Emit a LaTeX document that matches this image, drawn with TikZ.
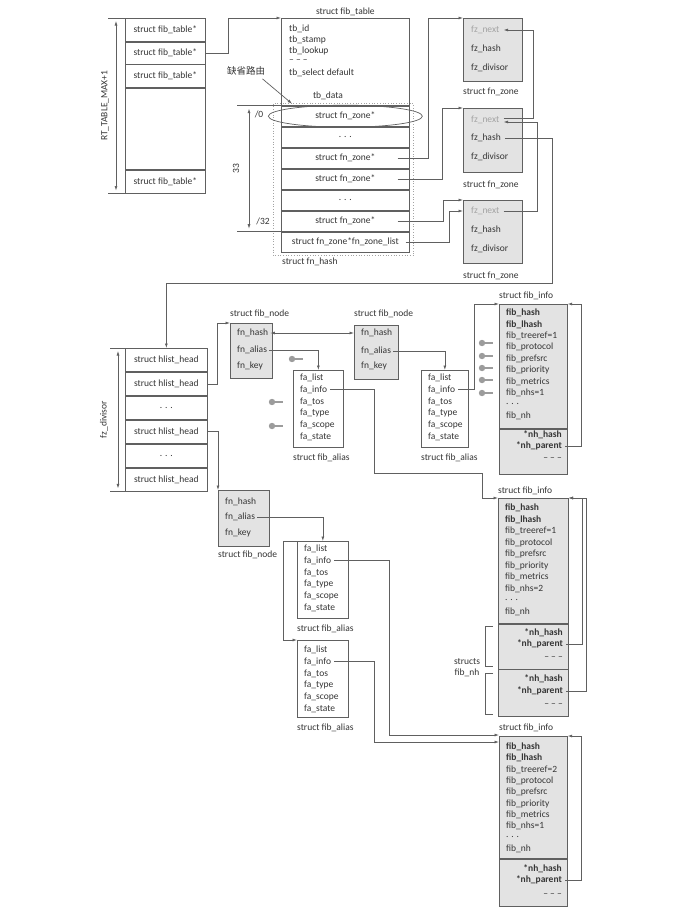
\documentclass[tikz,border=0pt]{standalone}
\usepackage{fontspec}
\setmainfont{Carlito}
\newfontfamily\cjkfont{Noto Sans CJK SC}
\usepackage{xcolor}
\usetikzlibrary{arrows.meta,calc,positioning}
\definecolor{colorLine}{HTML}{606060}
\definecolor{colorText}{HTML}{353535}
\definecolor{colorShade}{HTML}{E3E3E3}
\definecolor{colorPin}{HTML}{9C9C9C}
\definecolor{colorFaint}{HTML}{A3A3A3}
\newcommand{\fsz}{\fontsize{9.5}{11}\selectfont}

\begin{document}
\begin{tikzpicture}[x=1pt,y=-1pt,>={Latex[length=4.5pt,width=3pt]},every node/.append style={text=colorText,font=\fsz},cell/.style={draw=colorLine, line width=0.7pt, anchor=north west, inner sep=0pt},gcell/.style={cell, fill=colorShade},fld/.style={anchor=west, inner sep=1pt},bfld/.style={fld, font=\fsz\bfseries},rfld/.style={anchor=east, inner sep=1pt, font=\fsz\bfseries},capt/.style={anchor=west, inner sep=0pt},wire/.style={draw=colorLine, line width=0.7pt},keypin/.pic={\fill[colorPin] (0,0) circle (3.2pt); \draw[colorPin, line width=1.5pt] (0,0) -- (11,0);}]
    \path [fill=white] (0,0) rectangle (696,918);
    \useasboundingbox (0,0) rectangle (696,918);

    % fib_tables array
    \node [cell, minimum width=80, minimum height=23] (t1) at (125,18) {struct fib\_table*};
    \node [cell, minimum width=80, minimum height=22] (t2) at (t1.south west) {struct fib\_table*};
    \node [cell, minimum width=80, minimum height=23] (t3) at (t2.south west) {struct fib\_table*};
    \node [cell, minimum width=80, minimum height=81] (t4) at (t3.south west) {};
    \node [cell, minimum width=80, minimum height=23] (t5) at (t4.south west) {struct fib\_table*};
    \draw [wire] (t1.north west) -- ++(-17,0);
    \draw [wire] (t5.south west) -- ++(-17,0);
    \draw [wire, <->] ($(t1.north west)+(-9,3)$) -- ($(t5.south west)+(-9,-3)$);
    \node [rotate=90] (tmax) at ($(t1.north west)!0.5!(t5.south west)+(-20,0)$) {RT\_TABLE\_MAX+1};

    % fib_table and fn_hash
    \node [cell, minimum width=128, minimum height=87] (ftab) at (281,18) {};
    \node [anchor=south, inner sep=2pt] (ftabcap) at (ftab.north) {struct fib\_table};
    \node [fld] (tbid) at (288,29) {tb\_id};
    \node [fld] (tbstamp) at (288,40) {tb\_stamp};
    \node [fld] (tblookup) at (288,51) {tb\_lookup};
    \node [fld] (tbdots) at (288,61) {-- -- --};
    \node [fld] (tbsel) at (288,73) {tb\_select default};
    \node (tbdata) at (328,96) {tb\_data};
    \node [cell, minimum width=128, minimum height=20.3] (h0) at (ftab.south west) {struct fn\_zone*};
    \node [cell, minimum width=128, minimum height=20.3] (h1) at (h0.south west) {. . .};
    \node [cell, minimum width=128, minimum height=20.3] (h2) at (h1.south west) {struct fn\_zone*};
    \node [cell, minimum width=128, minimum height=20.3] (h3) at (h2.south west) {struct fn\_zone*};
    \node [cell, minimum width=128, minimum height=20.3] (h4) at (h3.south west) {. . .};
    \node [cell, minimum width=128, minimum height=20.3] (h5) at (h4.south west) {struct fn\_zone*};
    \node [cell, minimum width=128, minimum height=20.3] (h6) at (h5.south west) {struct fn\_zone*fn\_zone\_list};
    \draw [wire, dotted, draw=colorFaint] ($(h0.north west)+(-8,-2)$) rectangle ($(h6.south east)+(4,3)$);
    \node [capt] (fhcap) at ($(h6.south west)+(1,9)$) {struct fn\_hash};
    \draw [wire] (ftab.south west) -- ++(-44,0);
    \draw [wire] (h5.south west) -- ++(-44,0);
    \draw [wire, <->] ($(h0.north west)+(-32,3)$) -- ($(h5.south west)+(-32,-3)$);
    \node (lo) at ($(h0.west)+(-22,-2)$) {/0};
    \node (hi) at ($(h5.west)+(-18,0)$) {/32};
    \node [rotate=90] (bits) at ($(h0.north west)!0.5!(h5.south west)+(-45,0)$) {33};
    \draw [wire] (h0.center) ellipse [x radius=77pt, y radius=11pt];
    \node [font=\cjkfont\fontsize{9.5}{11}\selectfont] (dflt) at (246,71) {缺省路由};
    \draw [wire, ->] ([xshift=-6pt]dflt.south east) -- ([xshift=11pt,yshift=2pt]h0.north west);
    \draw [wire, ->] (t2.east) -- ++(23,0) |- (ftab.north west);

    % fn_zone
    \node [gcell, minimum width=59, minimum height=63] (z1) at (463,18) {};
    \node [fld, text=colorFaint] (z1n) at (470,30) {fz\_next};
    \node [fld] (z1h) at (470,49) {fz\_hash};
    \node [fld] (z1d) at (470,68) {fz\_divisor};
    \node [capt] (z1cap) at ($(z1.south west)+(0,10)$) {struct fn\_zone};
    \node [gcell, minimum width=59, minimum height=64] (z2) at (463,108) {};
    \node [fld, text=colorFaint] (z2n) at (470,120) {fz\_next};
    \node [fld] (z2h) at (470,138) {fz\_hash};
    \node [fld] (z2d) at (470,157) {fz\_divisor};
    \node [capt] (z2cap) at ($(z2.south west)+(0,12)$) {struct fn\_zone};
    \node [gcell, minimum width=59, minimum height=63] (z3) at (463,200) {};
    \node [fld, text=colorFaint] (z3n) at (470,211) {fz\_next};
    \node [fld] (z3h) at (470,230) {fz\_hash};
    \node [fld] (z3d) at (470,249) {fz\_divisor};
    \node [capt] (z3cap) at ($(z3.south west)+(0,12)$) {struct fn\_zone};
    \draw [wire, ->] ([xshift=-12pt]h2.east) -| ($(z1.north west)+(-35,0)$) -- (z1.north west);
    \draw [wire, ->] ([xshift=-12pt]h3.east) -| ($(z2.north west)+(-21,0)$) -- (z2.north west);
    \draw [wire, ->] ([xshift=-12pt]h5.east) -| ($(z3.north west)+(-20,0)$) -- (z3.north west);
    \draw [wire, ->] ([xshift=-4pt]h6.east) -| ($(z3.west |- z3n)+(-14,0)$) -- (z3.west |- z3n);
    \draw [wire, ->] ([shift={(3pt,2pt)}]z2n.east) -| ($(z1n.east -| z1.east)+(11,0)$) -- ([xshift=3pt]z1n.east);
    \draw [wire, ->] ([xshift=3pt]z3n.east) -| ($(z2n.east -| z2.east)+(15,2)$) -- ([shift={(3pt,-2pt)}]z2n.east);

    % fz_divisor hash heads
    \node [cell, minimum width=82, minimum height=23.2] (d1) at (125,348) {struct hlist\_head};
    \node [cell, minimum width=82, minimum height=23.2] (d2) at (d1.south west) {struct hlist\_head};
    \node [cell, minimum width=82, minimum height=23.2] (d3) at (d2.south west) {. . .};
    \node [cell, minimum width=82, minimum height=23.2] (d4) at (d3.south west) {struct hlist\_head};
    \node [cell, minimum width=82, minimum height=23.2] (d5) at (d4.south west) {. . .};
    \node [cell, minimum width=82, minimum height=23.2] (d6) at (d5.south west) {struct hlist\_head};
    \draw [wire] (d1.north west) -- ++(-15,0);
    \draw [wire] (d6.south west) -- ++(-15,0);
    \draw [wire, <->] ($(d1.north west)+(-7,3)$) -- ($(d6.south west)+(-7,-3)$);
    \node [rotate=90] (dmax) at ($(d1.north west)!0.5!(d6.south west)+(-21,0)$) {fz\_divisor};
    \draw [wire, ->] ([xshift=3pt]z2h.east) -| ($(z2.east)+(30,143)$) -| (d1.north);

    % fib_node
    \node [gcell, minimum width=42, minimum height=55] (n1) at (230,323) {};
    \node [fld] (n1h) at (236,333) {fn\_hash};
    \node [fld] (n1a) at (236,350) {fn\_alias};
    \node [fld] (n1k) at (236,366) {fn\_key};
    \node [capt] (n1cap) at ($(n1.north west)+(0,-9)$) {struct fib\_node};
    \node [gcell, minimum width=44, minimum height=54] (n2) at (354,325) {};
    \node [fld] (n2h) at (360,333) {fn\_hash};
    \node [fld] (n2a) at (360,351) {fn\_alias};
    \node [fld] (n2k) at (360,366) {fn\_key};
    \node [capt] (n2cap) at ($(n2.north west)+(0,-11)$) {struct fib\_node};
    \node [gcell, minimum width=51, minimum height=56] (n3) at (218,490) {};
    \node [fld] (n3h) at (224,502) {fn\_hash};
    \node [fld] (n3a) at (224,517) {fn\_alias};
    \node [fld] (n3k) at (224,533) {fn\_key};
    \node [capt] (n3cap) at ($(n3.south west)+(0,8)$) {struct fib\_node};
    \draw [wire, ->] (d2.east) -- ++(10,0) |- (n1.north west);
    \draw [wire, ->] (d4.east) -| (n3.north west);
    \draw [wire, <->] ([xshift=1pt]n1h.east) -- (n1h.east -| n2.west);

    % fib_alias
    \node [cell, minimum width=50, minimum height=77] (a1) at (293,370) {};
    \node [cell, minimum width=47, minimum height=77] (a2) at (421,370) {};
    \node [cell, minimum width=51, minimum height=77] (a3) at (297,541) {};
    \node [cell, minimum width=51, minimum height=77] (a4) at (297,640) {};
    \foreach \f [count=\i] in {fa\_list,fa\_info,fa\_tos,fa\_type,fa\_scope,fa\_state} {
        \node [fld] (a1f\i) at (299,{366.2+11.8*\i}) {\f};
        \node [fld] (a2f\i) at (427,{366.2+11.8*\i}) {\f};
        \node [fld] (a3f\i) at (303,{537.2+11.8*\i}) {\f};
        \node [fld] (a4f\i) at (303,{638.2+11.8*\i}) {\f};
    }
    \node [capt] (a1cap) at ($(a1.south west)+(0,10)$) {struct fib\_alias};
    \node [capt] (a2cap) at ($(a2.south west)+(0,10)$) {struct fib\_alias};
    \node [capt] (a3cap) at ($(a3.south west)+(0,10)$) {struct fib\_alias};
    \node [capt] (a4cap) at ($(a4.south west)+(0,10)$) {struct fib\_alias};
    \draw [wire, ->] ([xshift=1pt]n1a.east) -| (a1.north);
    \draw [wire, ->] ([xshift=1pt]n2a.east) -| (a2.north);
    \draw [wire, ->] ([xshift=1pt]n3a.east) -| (a3.north);
    \draw [wire, ->] (a3.north west) -- ++(-14,0) |- (a4.north west);
    \pic at (292,359) {keypin};
    \pic at (272,402) {keypin};
    \pic at (272,426) {keypin};

    % fib_info
    \node [gcell, minimum width=68, minimum height=124] (i1) at (499,304) {};
    \node [gcell, minimum width=68, minimum height=45] (i1p) at (i1.south west) {};
    \node [capt] (i1cap) at ($(i1.north west)+(0,-8)$) {struct fib\_info};
    \node [bfld] (i1h) at (505,313) {fib\_hash};
    \node [bfld] (i1l) at (505,324.4) {fib\_lhash};
    \foreach \f [count=\i] in {fib\_treeref=1,fib\_protocol,fib\_prefsrc,fib\_priority,fib\_metrics,fib\_nhs=1,. . .,fib\_nh}
        \node [fld] (i1f\i) at (505,{324.4+11.4*\i}) {\f};
    \node [rfld] (i1ph) at (563,435) {*nh\_hash};
    \node [rfld] (i1pp) at (563,446) {*nh\_parent};
    \node [anchor=east, inner sep=1pt] (i1pd) at (563,459) {-- -- --};
    \foreach \y in {343,356,368,380,393}
        \pic at (482,\y) {keypin};

    \node [gcell, minimum width=70, minimum height=125] (i2) at (498,498) {};
    \node [gcell, minimum width=70, minimum height=45] (i2a) at (i2.south west) {};
    \node [gcell, minimum width=70, minimum height=47] (i2b) at (i2a.south west) {};
    \node [capt] (i2cap) at ($(i2.north west)+(0,-7)$) {struct fib\_info};
    \node [bfld] (i2h) at (504,508) {fib\_hash};
    \node [bfld] (i2l) at (504,519.5) {fib\_lhash};
    \foreach \f [count=\i] in {fib\_treeref=1,fib\_protocol,fib\_prefsrc,fib\_priority,fib\_metrics,fib\_nhs=2,. . .,fib\_nh}
        \node [fld] (i2f\i) at (504,{519.5+11.5*\i}) {\f};
    \node [rfld] (i2ah) at (564,633) {*nh\_hash};
    \node [rfld] (i2ap) at (564,644) {*nh\_parent};
    \node [anchor=east, inner sep=1pt] (i2ad) at (564,658) {-- -- --};
    \node [rfld] (i2bh) at (564,679) {*nh\_hash};
    \node [rfld] (i2bp) at (564,691) {*nh\_parent};
    \node [anchor=east, inner sep=1pt] (i2bd) at (564,705) {-- -- --};
    \draw [wire] ($(i2a.north west)+(-5,3)$) -- ++(-8,0) |- ($(i2a.south west)+(-5,-3)$);
    \draw [wire] ($(i2b.north west)+(-5,4)$) -- ++(-8,0) |- ($(i2b.south west)+(-5,-3)$);
    \node [align=center, inner sep=0pt, font=\fontsize{9.5}{11}\selectfont] (fibnh) at (467,667.5) {structs\\fib\_nh};

    \node [gcell, minimum width=68, minimum height=122] (i3) at (499,736) {};
    \node [gcell, minimum width=68, minimum height=47] (i3p) at (i3.south west) {};
    \node [capt] (i3cap) at ($(i3.north west)+(0,-8)$) {struct fib\_info};
    \node [bfld] (i3h) at (505,747) {fib\_hash};
    \node [bfld] (i3l) at (505,758.3) {fib\_lhash};
    \foreach \f [count=\i] in {fib\_treeref=2,fib\_protocol,fib\_prefsrc,fib\_priority,fib\_metrics,fib\_nhs=1,. . .,fib\_nh}
        \node [fld] (i3f\i) at (505,{758.3+11.3*\i}) {\f};
    \node [rfld] (i3ph) at (563,869) {*nh\_hash};
    \node [rfld] (i3pp) at (563,880) {*nh\_parent};
    \node [anchor=east, inner sep=1pt] (i3pd) at (563,895) {-- -- --};

    \draw [wire, ->] ([xshift=2pt]a2f2.east) -| ($(i1.north west)+(-25,0)$) -- (i1.north west);
    \draw [wire, ->] ([xshift=2pt]a1f2.east) -| ($(a1.south east)+(31,26)$) -| ($(i2.north west)+(-16,0)$) -- (i2.north west);
    \draw [wire, ->] ([xshift=2pt]a3f2.east) -| ($(i3.north west)+(-110,-1)$) -- ($(i3.north west)+(0,-1)$);
    \draw [wire, ->] ([xshift=2pt]a4f2.east) -| ($(i3.north west)+(-125,6)$) -- ($(i3.north west)+(0,6)$);
    \draw [wire, ->] ([xshift=2pt]i1pp.east) -| ($(i1.north east)+(14,0)$) -- (i1.north east);
    \draw [wire, ->] ([xshift=2pt]i2ap.east) -| ($(i2.north east)+(14,0)$) -- (i2.north east);
    \draw [wire, ->] ([xshift=2pt]i2bp.east) -| ($(i2.north east)+(18,0)$) -- (i2.north east);
    \draw [wire, ->] ([xshift=2pt]i3pp.east) -| ($(i3.north east)+(14,0)$) -- (i3.north east);
\end{tikzpicture}
\end{document}
